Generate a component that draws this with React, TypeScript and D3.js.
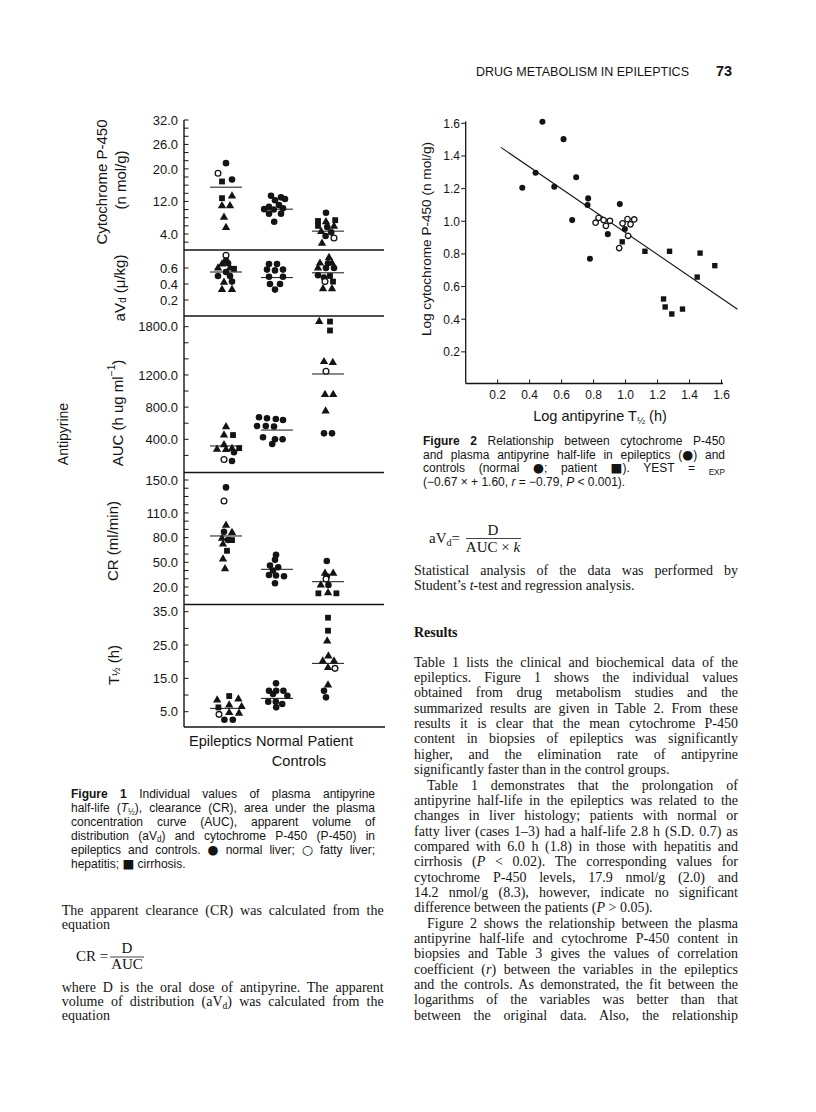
import React, { useEffect, useRef } from 'react';
import * as d3 from 'd3';

// ---- Figure 1 data: [group index, value, marker kind, dodge slot]
// kind: c = normal liver, o = fatty liver, t = hepatitis, q = cirrhosis
const groups = ['Epileptics', 'Normal', 'Patient'];

const cytoPoints = [
  [0, 21.4, 'c', 0], [0, 18.9, 'o', -2], [0, 16.9, 'q', -1], [0, 17.4, 'c', 1.5], [0, 12.8, 'q', -1],
  [0, 13.3, 't', 1.5], [0, 10.9, 't', -1], [0, 10.9, 't', 1], [0, 8.1, 't', -0.5], [0, 5.6, 't', 0],
  [1, 13.4, 'c', -1.5], [1, 13.0, 'c', 1], [1, 12.3, 'c', -0.5], [1, 12.6, 'c', 2], [1, 11.1, 'c', 0.5],
  [1, 10.7, 'c', -2], [1, 10.1, 'c', -3.2], [1, 10.0, 'c', -0.8], [1, 10.3, 'c', 1.5], [1, 9.0, 'c', -2],
  [1, 9.0, 'c', 1], [1, 7.0, 'c', -0.7],
  [2, 9.2, 'c', -0.5], [2, 7.2, 'q', -2.5], [2, 7.0, 't', -0.5], [2, 7.4, 'q', 1.8], [2, 6.0, 'q', -2.5],
  [2, 5.7, 'c', -0.2], [2, 5.9, 't', 1.5], [2, 4.6, 't', -1.7], [2, 4.4, 'c', 0.8], [2, 3.5, 'c', -0.6],
  [2, 3.0, 'o', 1.5], [2, 1.7, 't', -1.5],
];
const cytoMeans = [15.5, 10.1, 4.7];

const avdPoints = [
  [0, 0.76, 'o', 0], [0, 0.69, 'c', 0], [0, 0.65, 't', -1], [0, 0.66, 'c', 0.5], [0, 0.60, 't', -2],
  [0, 0.60, 't', 1], [0, 0.59, 'q', 2], [0, 0.55, 'c', 0], [0, 0.50, 'c', -2], [0, 0.50, 'c', 1],
  [0, 0.42, 't', -0.5], [0, 0.43, 'c', 1.5], [0, 0.33, 't', -1], [0, 0.33, 't', 1.5],
  [1, 0.65, 'c', -2], [1, 0.65, 'c', 0], [1, 0.58, 'c', -2.5], [1, 0.57, 'c', -0.5], [1, 0.58, 'c', 1.5],
  [1, 0.49, 'c', -2], [1, 0.49, 'c', 1.5], [1, 0.40, 'c', -1.75], [1, 0.40, 'c', 0.75], [1, 0.33, 'c', -0.5],
  [2, 0.73, 't', 0.25], [2, 0.66, 't', -2], [2, 0.66, 'c', 0], [2, 0.66, 't', 1], [2, 0.60, 't', -2.5],
  [2, 0.60, 'c', -0.5], [2, 0.60, 'c', 1.5], [2, 0.51, 'c', -2.5], [2, 0.50, 'q', 0.5], [2, 0.48, 'c', -1],
  [2, 0.43, 'o', -0.75], [2, 0.43, 'q', 1.25], [2, 0.34, 't', -1.25], [2, 0.34, 't', 1],
];
const avdMeans = [0.55, 0.48, 0.54];

const aucPoints = [
  [0, 556, 't', 0], [0, 453, 't', -0.5], [0, 453, 'q', 1.75], [0, 330, 't', -0.5], [0, 275, 't', -2.25],
  [0, 272, 't', 0], [0, 285, 't', 1.5], [0, 290, 'q', 3.3], [0, 240, 'c', 2], [0, 150, 'o', -0.5], [0, 130, 'c', 1.5],
  [1, 674, 'c', -4.5], [1, 661, 'c', -2.5], [1, 652, 'c', -0.3], [1, 640, 'c', 1.5], [1, 565, 'c', -5],
  [1, 565, 'c', -2.8], [1, 560, 'c', -0.75], [1, 425, 'c', -3.5], [1, 400, 'c', -0.5], [1, 400, 'c', 1.4],
  [1, 342, 'c', -1.2],
  [2, 1864, 't', -2.2], [2, 1864, 'q', 0.5], [2, 1753, 'q', 0.5], [2, 1365, 't', -1], [2, 1355, 't', 1.2],
  [2, 1245, 'o', -0.5], [2, 957, 't', -0.75], [2, 957, 't', 1.3], [2, 750, 't', -0.6], [2, 474, 'c', -1],
  [2, 474, 'c', 1],
];
const aucMeans = [317, 515, 1212];

const crPoints = [
  [0, 141, 'c', 0], [0, 124.5, 'o', -0.5], [0, 95, 't', 0], [0, 87, 'c', -0.5], [0, 86, 't', 1.5],
  [0, 79, 't', -1], [0, 77, 'c', 0.5], [0, 77, 'q', 1.5], [0, 72, 't', -0.75], [0, 64, 'q', 0.25],
  [0, 54, 't', -0.75], [0, 42, 't', -0.25],
  [1, 59, 'c', -0.25], [1, 53, 'c', -0.5], [1, 46, 'c', -1.75], [1, 44, 'c', 0.3], [1, 40, 'c', -1],
  [1, 34.6, 'c', -2], [1, 34, 'c', -0.25], [1, 33, 'c', 1.75], [1, 24.5, 'c', -0.5],
  [2, 51.6, 'c', -0.3], [2, 36.6, 't', -0.75], [2, 36.6, 't', 1.3], [2, 33, 'c', -0.3], [2, 29.7, 'o', -0.5],
  [2, 22.4, 't', -1.8], [2, 22.4, 'c', 0.1], [2, 12.3, 'q', -2.4], [2, 12.8, 't', 0], [2, 12.3, 'q', 2.1],
];
const crMeans = [82, 41.5, 26.4];

const tPoints = [
  [0, 8.5, 't', -2.2], [0, 9.7, 'q', 0.8], [0, 8.8, 't', 3.1], [0, 6.3, 'q', -1.9], [0, 7.0, 't', 0.8],
  [0, 6.5, 't', 3.9], [0, 4.2, 'o', -1.75], [0, 4.7, 't', 0.8], [0, 4.5, 't', 3.25], [0, 2.6, 'c', -0.4],
  [0, 2.6, 'c', 1.7],
  [1, 13.5, 'c', -0.25], [1, 11.3, 'c', -2], [1, 11.3, 'c', -0.2], [1, 11.3, 'c', 1.6], [1, 10.3, 'c', -1],
  [1, 9.8, 'c', 2.6], [1, 8.0, 'c', -2.2], [1, 8.0, 'c', -0.3], [1, 7.3, 'c', 1.3], [1, 6.3, 'c', -0.2],
  [2, 33.2, 'q', 0], [2, 29.3, 'q', 0], [2, 26.2, 't', -0.2], [2, 21.7, 't', 0.1], [2, 20.2, 't', -1.3],
  [2, 20.2, 't', 1.5], [2, 18.2, 't', 0], [2, 18.0, 'o', 1.75], [2, 13, 't', 0], [2, 11.3, 'c', -1],
  [2, 9.3, 'c', -0.5],
];
const tMeans = [6.0, 9.0, 19.5];

// ---- Figure 2 data: [log T1/2, log cytochrome P-450]
const fig2Filled = [
  [0.48, 1.61], [0.354, 1.205], [0.437, 1.297], [0.554, 1.211], [0.612, 1.503], [0.691, 1.269],
  [0.666, 1.007], [0.766, 1.14], [0.762, 1.099], [0.777, 0.77], [0.889, 0.921], [0.964, 1.105], [0.996, 0.952],
];
const fig2Open = [
  [0.8125, 0.991], [0.831, 1.021], [0.8625, 1.007], [0.877, 0.972], [0.902, 1.003], [0.96, 0.836],
  [0.981, 0.987], [1.012, 1.013], [1.031, 0.981], [1.054, 1.011], [1.016, 0.911],
];
const fig2Square = [
  [0.979, 0.874], [1.121, 0.816], [1.275, 0.816], [1.466, 0.805], [1.558, 0.728], [1.448, 0.658],
  [1.2375, 0.524], [1.2475, 0.475], [1.289, 0.432], [1.356, 0.462],
];
const fig2Fit = { slope: -0.67, intercept: 1.6, from: 0.22, to: 1.7 };
const fig2Ticks = [0.2, 0.4, 0.6, 0.8, 1.0, 1.2, 1.4, 1.6];

// ---- page text
const headerText = 'DRUG METABOLISM IN EPILEPTICS';
const pageNumber = '73';
const fig1Caption = [
  '<b>Figure 1</b> Individual values of plasma antipyrine',
  'half-life (<i>T</i><s>½</s>), clearance (CR), area under the plasma',
  'concentration curve (AUC), apparent volume of',
  'distribution (aV<s>d</s>) and cytochrome P-450 (P-450) in',
  'epileptics and controls. <m>●</m> normal liver; <m>○</m> fatty liver;',
  'hepatitis; <m>■</m> cirrhosis.',
];
const fig2Caption = [
  '<b>Figure 2</b> Relationship between cytochrome P-450',
  'and plasma antipyrine half-life in epileptics (<m>●</m>) and',
  'controls (normal <m>●</m>; patient <m>■</m>). YEST = <s>EXP</s>',
  '(−0.67 × + 1.60, <i>r</i> = −0.79, <i>P</i> < 0.001).',
];
const leftPara1 = ['The apparent clearance (CR) was calculated from the', 'equation'];
const leftPara2 = [
  'where D is the oral dose of antipyrine. The apparent',
  'volume of distribution (aV<s>d</s>) was calculated from the',
  'equation',
];
const rightPara0 = ['Statistical analysis of the data was performed by', 'Student’s <i>t</i>-test and regression analysis.'];
const resultsParas = [
  [
    'Table 1 lists the clinical and biochemical data of the',
    'epileptics. Figure 1 shows the individual values',
    'obtained from drug metabolism studies and the',
    'summarized results are given in Table 2. From these',
    'results it is clear that the mean cytochrome P-450',
    'content in biopsies of epileptics was significantly',
    'higher, and the elimination rate of antipyrine',
    'significantly faster than in the control groups.',
  ],
  [
    'Table 1 demonstrates that the prolongation of',
    'antipyrine half-life in the epileptics was related to the',
    'changes in liver histology; patients with normal or',
    'fatty liver (cases 1–3) had a half-life 2.8 h (S.D. 0.7) as',
    'compared with 6.0 h (1.8) in those with hepatitis and',
    'cirrhosis (<i>P</i> < 0.02). The corresponding values for',
    'cytochrome P-450 levels, 17.9 nmol/g (2.0) and',
    '14.2 nmol/g (8.3), however, indicate no significant',
    'difference between the patients (<i>P</i> > 0.05).',
  ],
  [
    'Figure 2 shows the relationship between the plasma',
    'antipyrine half-life and cytochrome P-450 content in',
    'biopsies and Table 3 gives the values of correlation',
    'coefficient (<i>r</i>) between the variables in the epileptics',
    'and the controls. As demonstrated, the fit between the',
    'logarithms of the variables was better than that',
    'between the original data. Also, the relationship',
  ],
];

const INK = '#141414';
const SANS = '"Liberation Sans", Arial, Helvetica, sans-serif';
const SERIF = '"Liberation Serif", "Times New Roman", serif';

function parseRich(s: string) {
  const out: any[] = [];
  let st = { i: false, b: false, s: false, u: false, m: false };
  const re = /<(\/?)([ibsum])>/g;
  let last = 0;
  let m: any;
  while ((m = re.exec(s))) {
    if (m.index > last) out.push({ t: s.slice(last, m.index), ...st });
    st = { ...st, [m[2]]: m[1] !== '/' };
    last = re.lastIndex;
  }
  if (last < s.length) out.push({ t: s.slice(last), ...st });
  return out;
}

function Rich({ x, y, s, size, family = SANS, w, anchor, transform, baseline, weight }: any) {
  const parts = parseRich(s);
  let shift = 0;
  return (
    <text x={x} y={y} fontSize={size} fontFamily={family} fill={INK} textAnchor={anchor}
      data-jw={w} transform={transform} dominantBaseline={baseline} fontWeight={weight}>
      {parts.map((p, i) => {
        const target = p.s ? size * 0.22 : p.u ? -size * 0.38 : 0;
        const dy = target - shift;
        shift = target;
        return (
          <tspan key={i} dy={dy ? dy : undefined} fontStyle={p.i ? 'italic' : undefined}
            fontWeight={p.b ? 'bold' : undefined}
            fontFamily={p.m ? '"DejaVu Sans", sans-serif' : undefined}
            fontSize={p.s || p.u ? size * 0.68 : p.m ? size * 1.05 : undefined}>
            {p.t}
          </tspan>
        );
      })}
    </text>
  );
}

const symbolPath = (kind: string, scale = 1) => {
  const type = kind === 't' ? d3.symbolTriangle : kind === 'q' ? d3.symbolSquare : d3.symbolCircle;
  const size = kind === 't' ? 30 : kind === 'q' ? 34 : kind === 'o' ? 26 : 34;
  return d3.symbol(type, size * scale)()!;
};

function Marker({ kind, x, y, scale = 1 }: any) {
  const open = kind === 'o';
  return (
    <path d={symbolPath(kind, scale)} transform={`translate(${x},${y})`}
      fill={open ? '#fff' : INK} stroke={open ? INK : 'none'} strokeWidth={open ? 1.3 : 0} />
  );
}

// figure 1 layout
const AXIS_X = 184;
const RIGHT_X = 384;
const DODGE = 4;
const fig1Panels = [
  { key: 'cyto', pts: cytoPoints, means: cytoMeans, top: 120, bottom: 250, domain: [4, 32], range: [234, 120],
    ticks: d3.range(2, 33, 2), labels: [4, 12, 20, 26, 32] },
  { key: 'avd', pts: avdPoints, means: avdMeans, top: 250, bottom: 316, domain: [0.2, 0.6], range: [300, 268],
    ticks: [0.2, 0.4, 0.6], labels: [0.2, 0.4, 0.6] },
  { key: 'auc', pts: aucPoints, means: aucMeans, top: 316, bottom: 472.5, domain: [400, 1800], range: [439.3, 326.7],
    ticks: d3.range(200, 1801, 200), labels: [400, 800, 1200, 1800] },
  { key: 'cr', pts: crPoints, means: crMeans, top: 472.5, bottom: 604.5, domain: [20, 150], range: [587, 480],
    ticks: d3.range(10, 151, 10), labels: [20, 50, 80, 110, 150] },
  { key: 't', pts: tPoints, means: tMeans, top: 604.5, bottom: 727, domain: [5, 35], range: [711.7, 611.7],
    ticks: d3.range(5, 36, 5), labels: [5, 15, 25, 35] },
];

const fig1Labels = [
  { s: 'Cytochrome P-450', x: 101, y: 182 },
  { s: '(n mol/g)', x: 120, y: 180 },
  { s: 'aV<s>d</s> (μ/kg)', x: 119, y: 288 },
  { s: 'AUC (h ug ml<u>−1</u>)', x: 117, y: 413 },
  { s: 'Antipyrine', x: 63, y: 434 },
  { s: 'CR (ml/min)', x: 112, y: 541 },
  { s: 'T<s>½</s> (h)', x: 113, y: 665 },
];

export default function App() {
  const svgRef = useRef<SVGSVGElement>(null);

  useEffect(() => {
    // justify lines to their column width by spreading the word gaps
    d3.select(svgRef.current).selectAll('text[data-jw]').each(function () {
      const el = this as SVGTextElement;
      const w = +(el.getAttribute('data-jw') || 0);
      if (!w) return;
      const spaces = ((el.textContent || '').trim().match(/ /g) || []).length;
      if (!spaces) return;
      const len = el.getComputedTextLength();
      el.style.wordSpacing = `${(w - len) / spaces}px`;
    });
  }, []);

  const xBand = d3.scalePoint().domain(groups).range([226, 328]);
  const fmt = d3.format('.1f');

  const x2 = d3.scaleLinear().domain([0, 1.6]).range([465.7, 721.5]);
  const y2 = d3.scaleLinear().domain([0, 1.6]).range([384.5, 123.3]);
  const fitLine = d3.line<number>().x((d) => x2(d)).y((d) => y2(fig2Fit.intercept + fig2Fit.slope * d));

  const bodyLine = 15.35;
  let rIdx = 0;

  return (
    <svg ref={svgRef} width={816} height={1112} style={{ position: 'absolute', left: 0, top: 0, background: '#fff' }}>
      <rect width={816} height={1112} fill="#fff" />

      {/* running head */}
      <text x={476} y={76} fontFamily={SANS} fontSize={12.5} fill={INK} textLength={213} lengthAdjust="spacingAndGlyphs">{headerText}</text>
      <text x={716} y={76} fontFamily={SANS} fontSize={14.5} fontWeight="bold" fill={INK}>{pageNumber}</text>

      {/* ---------- Figure 1 ---------- */}
      <g>
        <line x1={AXIS_X} x2={AXIS_X} y1={120} y2={727} stroke={INK} strokeWidth={1.4} />
        {fig1Panels.slice(1).map((p) => (
          <line key={p.key} x1={AXIS_X} x2={RIGHT_X} y1={p.top} y2={p.top} stroke={INK} strokeWidth={1.3} />
        ))}
        <line x1={AXIS_X} x2={RIGHT_X + 1} y1={727} y2={727} stroke={INK} strokeWidth={1.4} />
        {fig1Panels.map((p) => {
          const y = d3.scaleLinear().domain(p.domain).range(p.range);
          return (
            <g key={p.key}>
              {p.ticks.map((t) => (
                <line key={t} x1={AXIS_X} x2={AXIS_X + 4.5} y1={y(t)} y2={y(t)} stroke={INK} strokeWidth={1} />
              ))}
              {p.labels.map((t) => (
                <text key={t} x={178} y={y(t)} dy="0.36em" textAnchor="end" fontFamily={SANS} fontSize={13} fill={INK}>{fmt(t)}</text>
              ))}
              {p.means.map((m, i) => (
                <line key={i} x1={xBand(groups[i])! - 16} x2={xBand(groups[i])! + 16} y1={y(m)} y2={y(m)} stroke={INK} strokeWidth={1} />
              ))}
              {p.pts.map((d: any, i) => (
                <Marker key={i} kind={d[2]} x={xBand(groups[d[0]])! + d[3] * DODGE} y={y(d[1])} />
              ))}
            </g>
          );
        })}
        {fig1Labels.map((l) => (
          <Rich key={l.s} s={l.s} x={0} y={0} size={l.s === 'Antipyrine' ? 14 : 15} anchor="middle" baseline="central"
            transform={`translate(${l.x},${l.y}) rotate(-90)`} />
        ))}
        <text x={189} y={746} fontFamily={SANS} fontSize={14.6} fill={INK} data-jw={164}>{groups.join(' ')}</text>
        <text x={299} y={766} fontFamily={SANS} fontSize={14.6} fill={INK} textAnchor="middle">Controls</text>
      </g>

      {/* ---------- Figure 2 ---------- */}
      <g>
        <line x1={x2(0)} x2={x2(0)} y1={121.5} y2={y2(0) - 1} stroke={INK} strokeWidth={1.3} />
        <line x1={x2(0)} x2={723} y1={383.5} y2={383.5} stroke={INK} strokeWidth={1.3} />
        {fig2Ticks.map((t) => (
          <g key={t}>
            <line x1={x2(0) - 4.5} x2={x2(0)} y1={y2(t)} y2={y2(t)} stroke={INK} strokeWidth={1} />
            <text x={460} y={y2(t)} dy="0.36em" textAnchor="end" fontFamily={SANS} fontSize={12} fill={INK}>{t.toFixed(1)}</text>
            <line x1={x2(t)} x2={x2(t)} y1={383.5} y2={379.5} stroke={INK} strokeWidth={1} />
            <text x={x2(t)} y={398.5} textAnchor="middle" fontFamily={SANS} fontSize={12} fill={INK}>{t.toFixed(1)}</text>
          </g>
        ))}
        <path d={fitLine([fig2Fit.from, fig2Fit.to])!} stroke={INK} strokeWidth={1.1} fill="none" />
        {fig2Filled.map((d, i) => <Marker key={'f' + i} kind="c" x={x2(d[0])} y={y2(d[1])} scale={0.85} />)}
        {fig2Square.map((d, i) => <Marker key={'s' + i} kind="q" x={x2(d[0])} y={y2(d[1])} scale={0.85} />)}
        {fig2Open.map((d, i) => <Marker key={'o' + i} kind="o" x={x2(d[0])} y={y2(d[1])} scale={0.9} />)}
        <Rich s="Log cytochrome P-450 (n mol/g)" x={0} y={0} size={13.6} anchor="middle" baseline="central"
          transform="translate(426,239) rotate(-90)" />
        <Rich s="Log antipyrine T<s>½</s> (h)" x={600} y={420.5} size={14.5} anchor="middle" />
        {fig2Caption.map((s, i) => (
          <Rich key={i} s={s} x={423} y={445 + i * 13.6} size={12} w={i < fig2Caption.length - 1 ? 302 : undefined} />
        ))}
      </g>

      {/* figure 1 caption */}
      {fig1Caption.map((s, i) => (
        <Rich key={i} s={s} x={71} y={798 + i * 13.9} size={12} w={i < fig1Caption.length - 1 ? 304 : undefined} />
      ))}

      {/* left column body */}
      {leftPara1.map((s, i) => (
        <Rich key={i} s={s} x={61.7} y={915 + i * 14.2} size={14} family={SERIF} w={i < leftPara1.length - 1 ? 322 : undefined} />
      ))}
      <text x={76} y={961} fontFamily={SERIF} fontSize={15} fill={INK}>CR =</text>
      <text x={127} y={953} fontFamily={SERIF} fontSize={15} fill={INK} textAnchor="middle">D</text>
      <line x1={110} x2={144} y1={957} y2={957} stroke={INK} strokeWidth={0.8} />
      <text x={127} y={969} fontFamily={SERIF} fontSize={15} fill={INK} textAnchor="middle">AUC</text>
      {leftPara2.map((s, i) => (
        <Rich key={i} s={s} x={61.7} y={992 + i * 14.2} size={14} family={SERIF} w={i < leftPara2.length - 1 ? 322 : undefined} />
      ))}

      {/* right column body */}
      <Rich s="aV<s>d</s>=" x={429} y={543} size={15} family={SERIF} />
      <text x={493} y={535} fontFamily={SERIF} fontSize={15} fill={INK} textAnchor="middle">D</text>
      <line x1={466} x2={521} y1={538.5} y2={538.5} stroke={INK} strokeWidth={0.8} />
      <Rich s="AUC × <i>k</i>" x={493} y={551.5} size={15} family={SERIF} anchor="middle" />
      {rightPara0.map((s, i) => (
        <Rich key={i} s={s} x={414} y={575 + i * 15} size={14} family={SERIF} w={i === 0 ? 324 : undefined} />
      ))}
      <text x={414} y={637} fontFamily={SERIF} fontSize={14} fontWeight="bold" fill={INK}>Results</text>
      {resultsParas.map((para, pi) =>
        para.map((s, li) => {
          const idx = rIdx++;
          const indent = pi > 0 && li === 0 ? 13 : 0;
          const last = li === para.length - 1 && pi < resultsParas.length - 1;
          return (
            <Rich key={`${pi}-${li}`} s={s} x={414 + indent} y={666.7 + idx * bodyLine} size={14} family={SERIF}
              w={last ? undefined : 324 - indent} />
          );
        })
      )}
    </svg>
  );
}
